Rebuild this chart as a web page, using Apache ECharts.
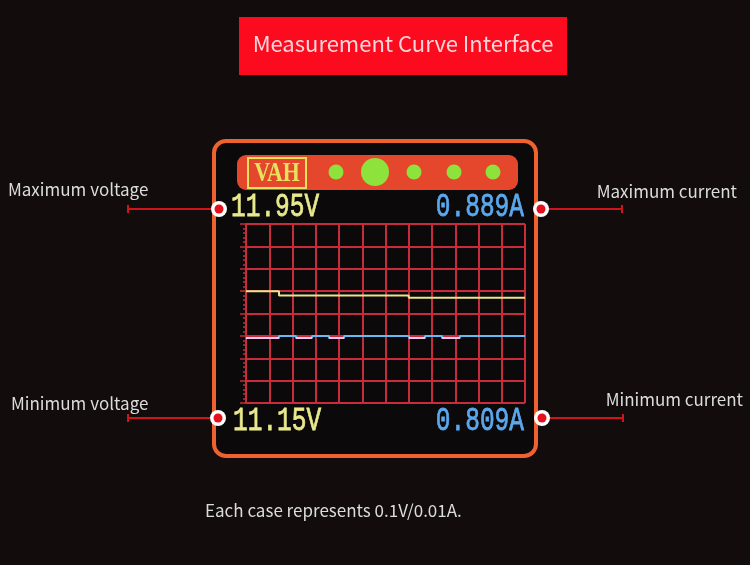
<!DOCTYPE html>
<html>
<head>
<meta charset="utf-8">
<title>Measurement Curve Interface</title>
<script src="https://cdn.jsdelivr.net/npm/echarts@6/dist/echarts.min.js"></script>
<style>
  html, body { margin: 0; padding: 0; background: #130c0c; }
  #chart { width: 750px; height: 565px; }
</style>
</head>
<body>
<div id="chart"></div>
<script>
// range shown on the meter screen
const minVolt = 11.15;
const maxVolt = 11.95;
const minCurr = 0.809;
const maxCurr = 0.889;

// x in grid cells (12 cells across), step points
const voltTimes = [0, 1.42, 7.0, 12];
const voltValues = [11.65, 11.63, 11.62, 11.62];
const currTimes = [0, 1.42, 2.15, 2.84, 3.57, 4.22, 7.01, 7.7, 8.43, 9.2, 12];
const currValues = [0.838, 0.839, 0.838, 0.839, 0.838, 0.839, 0.838, 0.839, 0.838, 0.839, 0.839];
const currLow = 0.838; // these stretches show in pink on the screen

const calloutNames = ['Maximum voltage', 'Maximum current', 'Minimum voltage', 'Minimum current'];
const titleText = 'Measurement Curve Interface';
const noteText = 'Each case represents 0.1V/0.01A.';

const RED = '#c62c3c';
const LABEL_FONT = '"Noto Sans CJK SC", "Noto Sans", sans-serif';

const pairs = (xs, ys) => xs.map((x, i) => [x, ys[i]]);

// pink pieces of the current trace, split by gaps
function lowPieces(xs, ys) {
    const out = [];
    for (let i = 0; i < xs.length - 1; i++) {
        if (ys[i] === currLow) {
            out.push([xs[i], ys[i]], [xs[i + 1], ys[i]], '-');
        }
    }
    return out;
}

// little helpers for the graphic parts
function callout(name, tx, ty, align, lx0, lx1, ly, mx) {
    const tickX = align === 'left' ? lx0 : lx1;
    return [
        { type: 'text', x: tx, y: ty, style: { text: name, fill: '#dcdcdc', font: '17px ' + LABEL_FONT, textAlign: align, textVerticalAlign: 'middle' } },
        { type: 'line', shape: { x1: lx0, y1: ly, x2: lx1, y2: ly }, style: { stroke: '#d0141c', lineWidth: 2 } },
        { type: 'line', shape: { x1: tickX, y1: ly - 4, x2: tickX, y2: ly + 4 }, style: { stroke: '#d0141c', lineWidth: 2 } },
        { type: 'circle', shape: { cx: mx, cy: ly, r: 8 }, style: { fill: '#ffffff' } },
        { type: 'circle', shape: { cx: mx, cy: ly, r: 4.5 }, style: { fill: '#e4101c' } }
    ];
}

function readout(text, x, y, color, align) {
    return {
        type: 'text', x: x, y: y, scaleX: 0.72, z: 20,
        style: { text: text, fill: color, font: '34px "Liberation Mono", monospace', textAlign: align, textVerticalAlign: 'middle', stroke: color, lineWidth: 0.8 }
    };
}

const dotXs = [336, 375, 414, 454, 493];

const graphics = [].concat(
    [
        // title
        { type: 'rect', shape: { x: 239, y: 17, width: 328, height: 58 }, style: { fill: '#fc0a1e' } },
        { type: 'text', x: 403, y: 44, style: { text: titleText, fill: '#f8d6da', font: '22px ' + LABEL_FONT, textAlign: 'center', textVerticalAlign: 'middle' } },
        // meter frame
        { type: 'rect', z: -10, shape: { x: 214, y: 141, width: 322, height: 315, r: 12 }, style: { fill: '#0b0909', stroke: '#ee6230', lineWidth: 4 } },
        // header bar
        { type: 'rect', z: -5, shape: { x: 237, y: 155, width: 281, height: 35, r: 9 }, style: { fill: '#e5472d' } },
        { type: 'rect', z: -4, shape: { x: 248, y: 158, width: 58, height: 30 }, style: { fill: 'none', stroke: '#e6e25c', lineWidth: 2 } },
        { type: 'text', z: -4, x: 277, y: 174, scaleX: 0.78, style: { text: 'VAH', fill: '#e6e25c', font: 'bold 28px "Liberation Serif", serif', textAlign: 'center', textVerticalAlign: 'middle' } },
        // footnote
        { type: 'text', x: 205, y: 511, style: { text: noteText, fill: '#dcdcdc', font: '17px ' + LABEL_FONT, textAlign: 'left', textVerticalAlign: 'middle' } }
    ],
    dotXs.map((x, i) => ({ type: 'circle', z: -4, shape: { cx: x, cy: 172, r: i === 1 ? 14 : 7.5 }, style: { fill: '#8ee23c' } })),
    [
        readout(maxVolt.toFixed(2) + 'V', 231, 207, '#e8e88c', 'left'),
        readout(maxCurr.toFixed(3) + 'A', 524, 207, '#5aa8ee', 'right'),
        readout(minVolt.toFixed(2) + 'V', 233, 421, '#e8e88c', 'left'),
        readout(minCurr.toFixed(3) + 'A', 524, 421, '#5aa8ee', 'right')
    ],
    callout(calloutNames[0], 8, 190, 'left', 128, 212, 209, 219),
    callout(calloutNames[1], 737, 192, 'right', 548, 622, 209, 541),
    callout(calloutNames[2], 11, 404, 'left', 128, 212, 418, 218),
    callout(calloutNames[3], 743, 400, 'right', 548, 623, 418, 542)
);

const option = {
    backgroundColor: '#130c0c',
    animation: false,
    grid: { left: 246, right: 225, top: 224, bottom: 162 },
    xAxis: {
        type: 'value', min: 0, max: 12, interval: 1,
        axisLine: { show: false }, axisTick: { show: false }, axisLabel: { show: false },
        splitLine: { show: true, lineStyle: { color: RED, width: 2 } }
    },
    yAxis: [
        {
            type: 'value', min: minVolt, max: maxVolt, interval: 0.1, offset: 6,
            axisLine: { show: true, lineStyle: { color: RED, width: 1.5 } },
            axisTick: { show: true, length: 6, lineStyle: { color: RED, width: 1.5 } },
            minorTick: { show: true, splitNumber: 5, length: 3, lineStyle: { color: RED, width: 1.5 } },
            axisLabel: { show: false },
            splitLine: { show: true, lineStyle: { color: RED, width: 2 } }
        },
        {
            type: 'value', min: minCurr, max: maxCurr, position: 'right',
            axisLine: { show: false }, axisTick: { show: false }, axisLabel: { show: false },
            splitLine: { show: false }
        }
    ],
    series: [
        {
            name: 'voltage', type: 'line', step: 'end', yAxisIndex: 0, symbol: 'none',
            lineStyle: { color: '#ece48a', width: 2 },
            data: pairs(voltTimes, voltValues)
        },
        {
            name: 'current', type: 'line', step: 'end', yAxisIndex: 1, symbol: 'none',
            lineStyle: { color: '#66baf2', width: 2 },
            data: pairs(currTimes, currValues)
        },
        {
            name: 'current low', type: 'line', yAxisIndex: 1, symbol: 'none', connectNulls: false,
            lineStyle: { color: '#f2c6ef', width: 2 },
            data: lowPieces(currTimes, currValues)
        }
    ],
    graphic: graphics
};

!(function () {
    const chart = echarts.init(document.getElementById('chart'));
    chart.setOption(option);
})();
</script>
</body>
</html>
